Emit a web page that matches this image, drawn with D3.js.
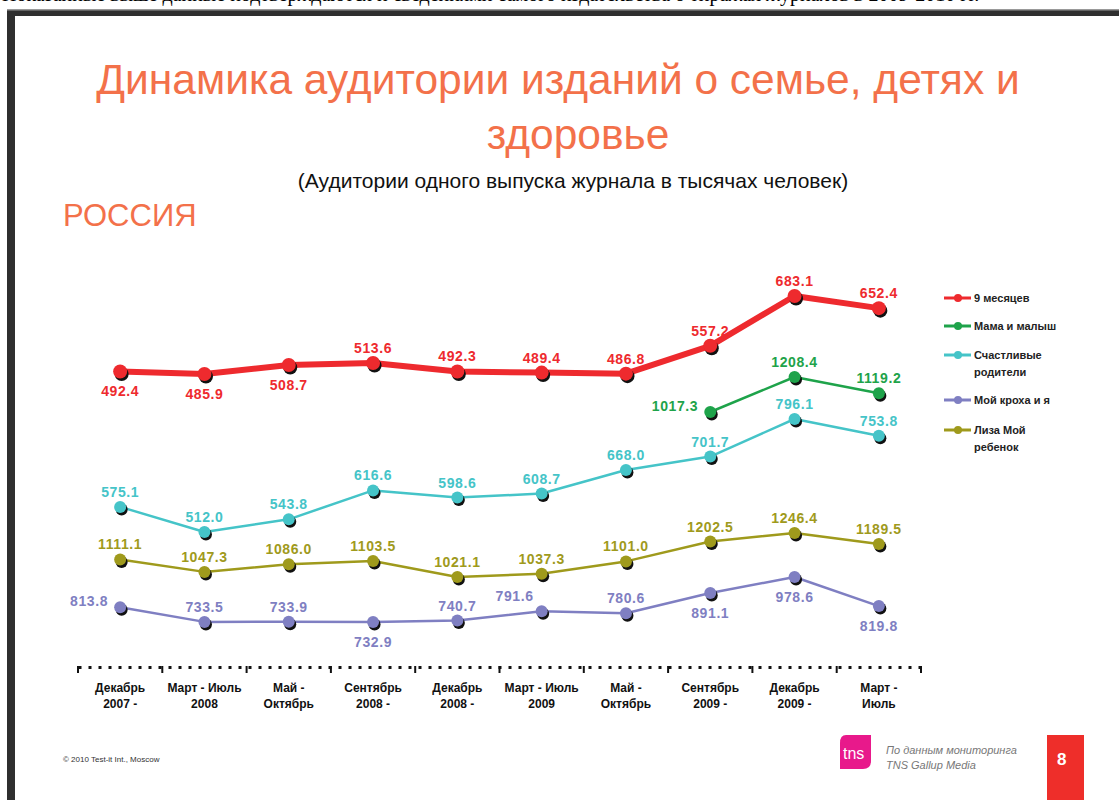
<!DOCTYPE html>
<html>
<head>
<meta charset="utf-8">
<script src="https://cdn.jsdelivr.net/npm/d3@7"></script>
<style>
  body { margin: 0; background: #fff; }
  svg { display: block; font-family: "Liberation Sans", Arial, sans-serif; }
</style>
</head>
<body>
<script>
// периоды по оси X
const PERIODS = [
  "Декабрь|2007 -", "Март - Июль|2008", "Май -|Октябрь", "Сентябрь|2008 -",
  "Декабрь|2008 -", "Март - Июль|2009", "Май -|Октябрь", "Сентябрь|2009 -",
  "Декабрь|2009 -", "Март -|Июль"
];

const SERIES_NAMES = ["9 месяцев", "Мама и малыш", "Счастливые|родители", "Мой кроха и я", "Лиза Мой|ребенок"];

// значения, тыс. человек (null = нет данных)
const NINE_MONTHS = [492.4, 485.9, 508.7, 513.6, 492.3, 489.4, 486.8, 557.2, 683.1, 652.4];
const MAMA_MALYSH = [null, null, null, null, null, null, null, 1017.3, 1208.4, 1119.2];
const SCHASTLIVYE = [575.1, 512.0, 543.8, 616.6, 598.6, 608.7, 668.0, 701.7, 796.1, 753.8];
const MOY_KROHA = [813.8, 733.5, 733.9, 732.9, 740.7, 791.6, 780.6, 891.1, 978.6, 819.8];
const LIZA = [1111.1, 1047.3, 1086.0, 1103.5, 1021.1, 1037.3, 1101.0, 1202.5, 1246.4, 1189.5];

const VALUES = [NINE_MONTHS, MAMA_MALYSH, SCHASTLIVYE, MOY_KROHA, LIZA];

// где подпись: a = сверху, b = снизу, l = слева
const LABEL_POS = [
  ["b", "b", "b", "a", "a", "a", "a", "a", "a", "a"],
  ["a", "a", "a", "a", "a", "a", "a", "l", "a", "a"],
  ["a", "a", "a", "a", "a", "a", "a", "a", "a", "a"],
  ["l", "a", "a", "b", "a", "al", "a", "b", "b", "b"],
  ["a", "a", "a", "a", "a", "a", "a", "a", "a", "a"]
];

const colors = ["#ee2a2e", "#1ea34a", "#45c4c8", "#7f7fc2", "#9f9a1c"];
const lineW = [6, 2.5, 2.5, 2.5, 2.5];
const dotR = [7, 6, 6, 6, 6];
// каждая линия в своей полосе
const bands = [[374, 296], [412, 377], [532, 419], [622, 577], [577, 533]];

const width = 1119, height = 800;

const svg = d3.select("body").append("svg")
  .attr("width", width)
  .attr("height", height);

// обрезанная строка сверху
svg.append("text")
  .attr("x", 2).attr("y", 1)
  .attr("font-family", "'Liberation Serif', 'Times New Roman', serif")
  .attr("font-size", 20)
  .text("Показанные выше данные подтверждаются и сведениями самого издательства о тиражах журналов в 2009-2010 гг.");

// рамка страницы
svg.append("rect").attr("x", 7).attr("y", 10).attr("width", width).attr("height", 6).attr("fill", "#2f2f2f");
svg.append("rect").attr("x", 7).attr("y", 10).attr("width", 8).attr("height", height).attr("fill", "#2f2f2f");
svg.append("rect").attr("x", 7).attr("y", 9).attr("width", width).attr("height", 1.5).attr("fill", "#999");

// заголовки
svg.append("text")
  .attr("x", 558).attr("y", 94)
  .attr("text-anchor", "middle")
  .attr("font-size", 42.5)
  .attr("fill", "#f3714a")
  .text("Динамика аудитории изданий о семье, детях и");
svg.append("text")
  .attr("x", 578).attr("y", 149)
  .attr("text-anchor", "middle")
  .attr("font-size", 42.5)
  .attr("fill", "#f3714a")
  .text("здоровье");
svg.append("text")
  .attr("x", 573).attr("y", 188)
  .attr("text-anchor", "middle")
  .attr("font-size", 21)
  .attr("fill", "#111")
  .text("(Аудитории одного выпуска журнала в тысячах человек)");
svg.append("text")
  .attr("x", 63).attr("y", 226)
  .attr("font-size", 31)
  .attr("fill", "#f3714a")
  .text("РОССИЯ");

// индексы периодов (названия повторяются)
const x = d3.scaleBand()
  .domain(d3.range(PERIODS.length))
  .range([78, 921]);

const cx = i => x(i) + x.bandwidth() / 2;

// ось X
const axisY = 667;
const xAxis = d3.axisBottom(x)
  .tickSize(0)
  .tickSizeOuter(0)
  .tickPadding(16)
  .tickFormat(i => PERIODS[i]);

const gx = svg.append("g")
  .attr("transform", `translate(0,${axisY})`)
  .call(xAxis);

gx.select(".domain")
  .attr("stroke", "#111")
  .attr("stroke-width", 3)
  .attr("stroke-dasharray", "3,7");

gx.selectAll(".tick text").each(function(i) {
  const t = d3.select(this);
  const parts = PERIODS[i].split("|");
  t.text(null)
    .attr("font-family", "'Liberation Sans Narrow', 'Arial Narrow', sans-serif")
    .attr("font-weight", "bold")
    .attr("font-size", 12)
    .attr("fill", "#111");
  parts.forEach((s, k) => {
    t.append("tspan").attr("x", 0).attr("dy", k === 0 ? "0.71em" : "1.4em").text(s);
  });
});

// засечки на границах периодов
const bounds = d3.range(PERIODS.length).map(i => x(i)).concat([x.range()[1]]);
gx.selectAll(".bound")
  .data(bounds)
  .enter().append("line")
  .attr("class", "bound")
  .attr("x1", d => d).attr("x2", d => d)
  .attr("y1", -1).attr("y2", 6)
  .attr("stroke", "#111")
  .attr("stroke-width", 2);

// линии
VALUES.forEach((vals, si) => {
  const defined = vals.filter(v => v !== null);
  const y = d3.scaleLinear()
    .domain(d3.extent(defined))
    .range(bands[si]);

  const pts = vals.map((v, i) => ({ v, i, pos: LABEL_POS[si][i] }))
    .filter(d => d.v !== null);

  const line = d3.line()
    .x(d => cx(d.i))
    .y(d => y(d.v));

  const g = svg.append("g");

  g.append("path")
    .datum(pts)
    .attr("fill", "none")
    .attr("stroke", colors[si])
    .attr("stroke-width", lineW[si])
    .attr("stroke-linejoin", "round")
    .attr("d", line);

  // тень маркера
  g.selectAll(".shadow")
    .data(pts)
    .enter().append("circle")
    .attr("cx", d => cx(d.i) + 1.5)
    .attr("cy", d => y(d.v) + 2.5)
    .attr("r", dotR[si])
    .attr("fill", "#111");

  g.selectAll(".dot")
    .data(pts)
    .enter().append("circle")
    .attr("cx", d => cx(d.i))
    .attr("cy", d => y(d.v))
    .attr("r", dotR[si])
    .attr("fill", colors[si]);

  g.selectAll(".lbl")
    .data(pts)
    .enter().append("text")
    .attr("x", d => {
      if (d.pos === "l") return cx(d.i) - 12;
      if (d.pos === "al") return cx(d.i) - 8;
      return cx(d.i);
    })
    .attr("y", d => {
      if (d.pos === "b") return y(d.v) + 25;
      if (d.pos === "l") return y(d.v) - 1;
      return y(d.v) - 10;
    })
    .attr("text-anchor", d => (d.pos === "l" || d.pos === "al") ? "end" : "middle")
    .attr("font-size", 14)
    .attr("font-weight", "bold")
    .attr("letter-spacing", 0.6)
    .attr("fill", colors[si])
    .text(d => d.v.toFixed(1));
});

// легенда
const legendY = [298, 326, 355, 400, 430];
const legend = svg.append("g");
SERIES_NAMES.forEach((name, i) => {
  const g = legend.append("g").attr("transform", `translate(944,${legendY[i]})`);
  g.append("line").attr("x1", 0).attr("x2", 27).attr("stroke", colors[i]).attr("stroke-width", 3);
  g.append("circle").attr("cx", 14).attr("r", 4).attr("fill", colors[i]);
  const t = g.append("text")
    .attr("x", 30).attr("y", 4)
    .attr("font-size", 11)
    .attr("font-weight", "bold")
    .attr("fill", "#222");
  name.split("|").forEach((s, j) => {
    t.append("tspan").attr("x", 30).attr("dy", j === 0 ? 0 : 17).text(s);
  });
});

// подвал
svg.append("text")
  .attr("x", 63).attr("y", 762)
  .attr("font-size", 8)
  .attr("fill", "#333")
  .text("© 2010 Test-it Int., Moscow");

const logo = svg.append("g").attr("transform", "translate(840,735)");
logo.append("path")
  .attr("d", "M6,0 H31 V26 Q31,34 23,34 H0 V8 Q0,0 6,0 Z")
  .attr("fill", "#e8198b");
logo.append("text")
  .attr("x", 3).attr("y", 24)
  .attr("font-size", 16)
  .attr("fill", "#fff")
  .text("tns");

svg.append("text")
  .attr("x", 886).attr("y", 754)
  .attr("font-size", 11)
  .attr("font-style", "italic")
  .attr("fill", "#777")
  .text("По данным мониторинга");
svg.append("text")
  .attr("x", 886).attr("y", 769)
  .attr("font-size", 11)
  .attr("font-style", "italic")
  .attr("fill", "#777")
  .text("TNS Gallup Media");

svg.append("rect")
  .attr("x", 1047).attr("y", 735)
  .attr("width", 37).attr("height", 65)
  .attr("fill", "#ee2e2a");
svg.append("text")
  .attr("x", 1057).attr("y", 765)
  .attr("font-size", 17)
  .attr("font-weight", "bold")
  .attr("fill", "#fff")
  .text("8");
</script>
</body>
</html>
